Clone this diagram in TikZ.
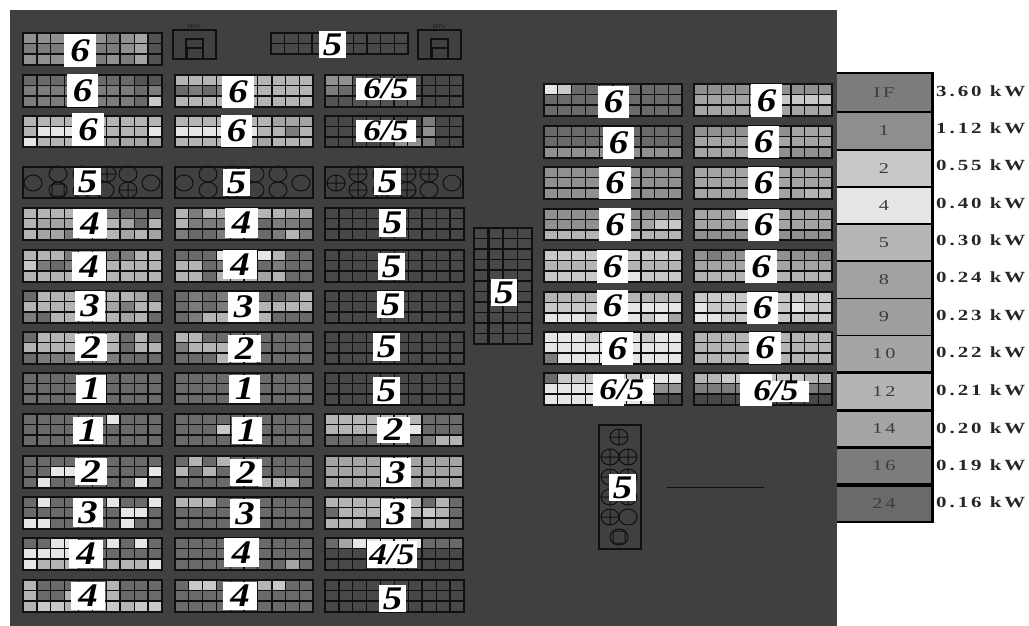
\documentclass[tikz,border=0pt]{standalone}
\usepackage{graphicx}
\usepackage{fontspec}
\setmainfont{Liberation Serif}
\newfontfamily\labbase{Liberation Serif}
\newcommand\labfont{\labbase\bfseries\itshape}
\newcommand\labtext[2]{\scalebox{1.18}[1]{\labfont\fontsize{#1}{#1}\selectfont #2}}
\newfontfamily\kwfont[LetterSpace=14]{Liberation Serif}
\newfontfamily\tinyfont{Liberation Sans}
\definecolor{cola}{HTML}{E6E6E6}
\definecolor{colb}{HTML}{C8C8C8}
\definecolor{colc}{HTML}{B4B4B4}
\definecolor{cold}{HTML}{A4A4A4}
\definecolor{cole}{HTML}{909090}
\definecolor{colf}{HTML}{7C7C7C}
\definecolor{colg}{HTML}{6A6A6A}
\definecolor{colh}{HTML}{545454}
\definecolor{coli}{HTML}{484848}
\definecolor{panel}{HTML}{404040}
\definecolor{ink}{HTML}{101010}
\definecolor{legt}{HTML}{3C3C3C}
\newcount\cellno
\newcommand\rowparse[1]{\ifx#1\relax\else
  \fill[col#1] ({\gxo+\the\cellno*\gw},\gyt) rectangle +(\gw,\gh);
  \global\advance\cellno by 1
  \expandafter\rowparse\fi}
\newcommand\rowat[3]{\global\cellno=0 \edef\gxo{#1}\edef\gyt{#2}\rowparse#3\relax}
% tgrid: x0 y0 x1 y1 and three rows of ten tones
\newcommand\tgrid[7]{%
  \pgfmathsetmacro\gw{(#3-#1)/10}\pgfmathsetmacro\gh{(#4-#2)/3}%
  \pgfmathsetmacro\yb{#2+\gh}\pgfmathsetmacro\yc{#2+2*\gh}%
  \rowat{#1}{#2}{#5}\rowat{#1}{\yb}{#6}\rowat{#1}{\yc}{#7}%
  \foreach \k in {1,...,9}{\draw[gline] ({#1+\k*\gw},#2) -- ({#1+\k*\gw},#4);}%
  \draw[gline] (#1,\yb) -- (#3,\yb);\draw[gline,line width=1.8pt] (#1,\yc) -- (#3,\yc);%
  \draw[gline,line width=2.2pt] ({#1+7*\gw},#2) -- ({#1+7*\gw},#4);%
  \draw[gline] (#1,#2) rectangle (#3,#4);%
  \draw[gline,line width=2pt] (#1,#4) -- (#3,#4);}
\newcommand\dgrid[2]{\tgrid{#1}{#2}{\the\numexpr#1+139\relax}{\the\numexpr#2+32\relax}{iiiiiiiiii}{iiiiiiiiii}{iiiiiiiiii}}
% lab: name x0 y0 x1 y1 text
\newcommand\lab[6]{\node[labbox,minimum width={(#4-#2)*1pt},minimum height={(#5-#3)*1pt}] (#1) at ({(#2+#4)/2},{(#3+#5)/2}) {\labtext{33}{#6}};}
\newcommand\labw[7]{\node[labbox,minimum width={(#4-#2)*1pt},minimum height={(#5-#3)*1pt}] (#1) at ({(#2+#4)/2},{(#3+#5)/2}) {}; \node[inner sep=0pt] (#1t) at (#6,{(#3+#5)/2}) {\labtext{30}{#7}};}
\newcommand\ring[2]{\draw[ringl] (#1,#2) ellipse (9 and 8);}
\newcommand\xring[2]{\draw[ringl] (#1,#2) ellipse (9 and 8) (#1-9,#2) -- (#1+9,#2) (#1,#2-8) -- (#1,#2+8);}
\newcommand\sring[2]{\draw[ringl] (#1,#2) ellipse (9 and 8) (#1-6,#2-6) rectangle (#1+6,#2+6);}
\newcommand\house[3]{\draw[line width=1.9pt,ink,line join=miter] (#1,#2+29) -- (#1,#2) -- (#1+43,#2) -- (#1+43,#2+29) -- (#1+30,#2+29) -- (#1+30,#2+9) -- (#1+13,#2+9) -- (#1+13,#2+29) -- cycle;
  \draw[line width=1.9pt,ink] (#1+14,#2+18) rectangle (#1+30,#2+29);
  \node[inner sep=0pt,text=ink] (#3) at (#1+21,#2-3) {\tinyfont\fontsize{5}{5}\selectfont #3};}
\newcommand\legrow[6]{\fill[#3] (837,#1) rectangle (931,#2);
  \node[text=legt,inner sep=0pt] (leg#6) at (884,{(#1+#2)/2}) {\scalebox{1.35}[1]{\kwfont\fontsize{15}{15}\selectfont #4}};
  \node[anchor=west,inner sep=0pt,text=black!85] (kw#6) at (936,#5) {\scalebox{1.35}[1]{\kwfont\bfseries\fontsize{15.5}{15.5}\selectfont #6~kW}};}
\tikzset{
  gline/.style={draw=ink,line width=1.3pt},
  ringl/.style={draw=ink,line width=1pt},
  labbox/.style={fill=white,inner sep=0pt,text=black},
}
\begin{document}
\begin{tikzpicture}[x=1pt,y=-1pt]
\useasboundingbox (0,0) rectangle (1029,626);
\fill[white] (0,0) rectangle (1029,626);
\fill[panel] (10,10) rectangle (837,626);
% column 1
\tgrid{23}{33}{162}{65}{eeeeeefedh}{fffffffedh}{eeeeefefdh}\lab{a0}{64}{34}{96}{67}{6}
\tgrid{23}{75}{162}{107}{gggggggghh}{ffffffffgf}{ffffffffgb}\lab{a1}{67}{74}{98}{107}{6}
\tgrid{23}{116}{162}{147}{cccccccccc}{caaaacccca}{acccccdddd}\lab{a2}{72}{113}{104}{146}{6}
\tgrid{23}{208}{162}{240}{ccccccfggg}{cdddcccdgc}{cddfcccdcd}\lab{a4}{73}{209}{107}{238}{4}
\tgrid{23}{250}{162}{282}{cccfccffcc}{bfgfcccccc}{cccccccccc}\lab{a5}{72}{252}{106}{281}{4}
\tgrid{23}{291}{162}{323}{gcccccccdg}{ccccccdfcc}{fgcccccdcg}\lab{a6}{75}{291}{105}{321}{3}
\tgrid{23}{332}{162}{364}{gccccccgcg}{cccccccgcc}{gffffffggg}\lab{a7}{75}{334}{107}{361}{2}
\tgrid{23}{373}{162}{404}{gggggggggg}{gggggggggg}{gggggggggg}\lab{a8}{76}{375}{106}{403}{1}
\tgrid{23}{414}{162}{446}{ggggggaggg}{gggggggggg}{gggggggggg}\lab{a9}{73}{417}{103}{444}{1}
\tgrid{23}{456}{162}{488}{gggggggggg}{ggaaggggga}{gaggggggag}\lab{a10}{75}{458}{107}{485}{2}
\tgrid{23}{497}{162}{529}{gaggggagga}{gggggggaag}{aagggggagg}\lab{a11}{73}{498}{103}{527}{3}
\tgrid{23}{538}{162}{570}{ggaaggagag}{aaaagggggg}{acccggccca}\lab{a12}{69}{540}{103}{568}{4}
\tgrid{23}{580}{162}{612}{cgggggcggg}{cggcggcggg}{cbbcccbcbb}\lab{a13}{71}{582}{105}{610}{4}
% column 2
\tgrid{175}{75}{313}{107}{cccccccccc}{gfgfcccccc}{cccccccccc}\lab{b1}{222}{76}{254}{108}{6}
\tgrid{175}{116}{313}{147}{cccccccddd}{aaaaaaccfc}{ccccccdccc}\lab{b2}{221}{115}{252}{147}{6}
\tgrid{175}{208}{313}{240}{cfccccccdd}{cfffgggffg}{fggffggfcf}\lab{b4}{225}{208}{258}{238}{4}
\tgrid{175}{250}{313}{282}{gggaaaacgg}{ccgfccgfgg}{ccgcccdcgg}\lab{b5}{223}{250}{257}{279}{4}
\tgrid{175}{291}{313}{323}{gfgfffggfc}{gfgfffcccc}{gfcccccggg}\lab{b6}{228}{292}{259}{322}{3}
\tgrid{175}{332}{313}{364}{ccgggggggg}{fcccgggggg}{gggcccgggg}\lab{b7}{228}{335}{261}{362}{2}
\tgrid{175}{373}{313}{404}{gggggggggg}{gggggggggg}{gggggggggg}\lab{b8}{229}{375}{260}{403}{1}
\tgrid{175}{414}{313}{446}{gggggggggg}{gggbgggggg}{gggggggggg}\lab{b9}{232}{417}{262}{444}{1}
\tgrid{175}{456}{313}{488}{gcgcgggggg}{cgcggggggg}{ggggggcccg}\lab{b10}{230}{459}{262}{486}{2}
\tgrid{175}{497}{313}{529}{cccggggggg}{gggggggggg}{gggggggggg}\lab{b11}{230}{499}{260}{528}{3}
\tgrid{175}{538}{313}{570}{gggggggggg}{gggggggggg}{ggggggggdg}\lab{b12}{224}{538}{259}{567}{4}
\tgrid{175}{580}{313}{612}{gbbgggcbgg}{gggggggggg}{gggggggggg}\lab{b13}{223}{582}{257}{610}{4}
% column 3
\tgrid{325}{75}{463}{107}{eehhhhhiii}{fgiiiiiiii}{hhhhhhhiii}\labw{c1}{356}{78}{416}{100}{386}{6/5}
\tgrid{325}{116}{463}{147}{iiiiiiifii}{iiiiiiieii}{iiiiieefii}\labw{c2}{356}{120}{416}{142}{386}{6/5}
\dgrid{325}{208}\lab{c4}{379}{209}{406}{237}{5}
\dgrid{325}{250}\lab{c5}{378}{253}{405}{280}{5}
\dgrid{325}{291}\lab{c6}{377}{291}{404}{318}{5}
\dgrid{325}{332}\lab{c7}{373}{333}{400}{361}{5}
\dgrid{325}{373}\lab{c8}{373}{377}{400}{404}{5}
\tgrid{325}{414}{463}{446}{cccccccggg}{ccccccaggg}{gggggggfcc}\lab{c9}{377}{417}{410}{443}{2}
\tgrid{325}{456}{463}{488}{dddddddddd}{dddddddddd}{dddddddddd}\lab{c10}{381}{458}{411}{487}{3}
\tgrid{325}{497}{463}{529}{cccccccgcg}{gccccccbcg}{cccgcggccg}\lab{c11}{381}{499}{411}{528}{3}
\tgrid{325}{538}{463}{570}{gdaaaaaggg}{iiiiiiiiii}{iiiiiiiiii}\labw{c12}{367}{541}{417}{568}{392}{4/5}
\dgrid{325}{580}\lab{c13}{379}{585}{406}{612}{5}
% top two-row grid
\fill[coli] (271,33) rectangle (408,54);
\foreach \k in {1,...,9}{\draw[gline] ({271+\k*13.7},33) -- ({271+\k*13.7},54);}
\draw[gline] (271,43.5) -- (408,43.5);
\draw[gline] (271,33) rectangle (408,54);
\lab{t5}{319}{31}{346}{58}{5}
\house{173}{30}{FFFV}
\house{418}{30}{SFFV}
% ring panels
\draw[gline] (23,167) rectangle (162,198);\draw[gline,line width=1.8pt] (23,198) -- (162,198);
\ring{33}{183}\ring{58}{174}\sring{58}{190}\ring{82}{174}\ring{82}{190}\xring{107}{174}\ring{105}{190}\ring{128}{174}\xring{128}{190}\ring{151}{183}
\lab{a3}{74}{168}{101}{195}{5}
\draw[gline] (175,167) rectangle (313,198);\draw[gline,line width=1.8pt] (175,198) -- (313,198);
\ring{184}{183}\ring{208}{174}\ring{208}{190}\ring{232}{174}\ring{232}{190}\ring{255}{174}\ring{255}{190}\ring{278}{174}\ring{278}{190}\ring{301}{183}
\lab{b3}{223}{169}{250}{196}{5}
\draw[gline] (325,167) rectangle (463,198);\draw[gline,line width=1.8pt] (325,198) -- (463,198);
\xring{336}{183}\xring{358}{174}\xring{358}{190}\xring{382}{174}\xring{382}{190}\xring{407}{174}\xring{407}{190}\xring{429}{174}\ring{429}{190}\ring{452}{183}
\lab{c3}{374}{168}{401}{195}{5}
% centre grid
\fill[coli] (474,228) rectangle (532,344);
\foreach \k in {1,...,10}{\draw[gline,line width=1.6pt] (474,{228+\k*10.55}) -- (532,{228+\k*10.55});}
\foreach \k in {1,2,3}{\draw[gline,line width=1.8pt] ({474+\k*14.5},228) -- ({474+\k*14.5},344);}
\draw[gline,line width=3pt] (488.5,228) -- (488.5,344);
\draw[gline,line width=2.2pt] (474,228) rectangle (532,344);
\lab{m5}{491}{279}{517}{306}{5}
% right block, first column
\tgrid{544}{84}{682}{116}{abgggggggg}{gggggggggg}{gggggggggg}\lab{d0}{598}{86}{629}{118}{6}
\tgrid{544}{126}{682}{158}{gggggggggg}{gggggggggg}{eeeeeeeeee}\lab{d1}{603}{127}{634}{159}{6}
\tgrid{544}{167}{682}{199}{eeeeeeeeee}{eeeeeeeeee}{eeeeeeeeee}\lab{d2}{599}{167}{631}{199}{6}
\tgrid{544}{209}{682}{240}{eeeeeeeeee}{eeeeeeedbb}{cccccccccc}\lab{d3}{599}{208}{631}{241}{6}
\tgrid{544}{250}{682}{282}{bbbbbbbbbb}{cccccccccc}{bbbbbbabbb}\lab{d4}{597}{250}{628}{283}{6}
\tgrid{544}{292}{682}{323}{cccccccccc}{bbbbbaaaaa}{aaabaaabad}\lab{d5}{597}{290}{628}{322}{6}
\tgrid{544}{332}{682}{364}{aaabaaabaa}{aaaaaaaaaa}{faaaaaaaaa}\lab{d6}{602}{332}{633}{365}{6}
\tgrid{544}{373}{682}{405}{gbbbbbbaaa}{aaaaaaaaee}{aaaaaaaaii}
\labw{d7}{593}{374}{624}{406}{623}{}\node[labbox,minimum width=30pt,minimum height=22pt] (d7b) at (638,390) {};\node[inner sep=0pt] (d7t) at (622,390) {\labtext{30}{6/5}};
% right block, second column
\tgrid{694}{84}{832}{116}{eeeeeeeeee}{ddddddbbbb}{dddddddddd}\lab{e0}{751}{84}{782}{117}{6}
\tgrid{694}{126}{832}{158}{eeeeeeeddd}{dddddddddd}{ddddddeeee}\lab{e1}{748}{126}{779}{158}{6}
\tgrid{694}{167}{832}{199}{dddddddddd}{dddddddddd}{ddddddddcc}\lab{e2}{748}{167}{779}{199}{6}
\tgrid{694}{209}{832}{240}{dddadddddd}{dddddddddd}{eeeeeeeeee}\lab{e3}{748}{209}{779}{241}{6}
\tgrid{694}{250}{832}{282}{efeeeeeeef}{dddddddddd}{cccccccccc}\lab{e4}{745}{250}{777}{283}{6}
\tgrid{694}{292}{832}{323}{bbbbbbbbbb}{abbbbbbabb}{aabbbbbbbb}\lab{e5}{747}{292}{778}{324}{6}
\tgrid{694}{332}{832}{364}{cccccccccc}{cccccccccc}{cccccccccc}\lab{e6}{749}{332}{781}{364}{6}
\tgrid{694}{373}{832}{405}{ccbbbbbbcc}{fffffffffg}{iiiiiiiiii}
\labw{e7}{740}{374}{772}{406}{771}{}\node[labbox,minimum width=37pt,minimum height=21pt] (e7b) at (790,391) {};\node[inner sep=0pt] (e7t) at (776,391) {\labtext{30}{6/5}};
% bottom ring panel
\draw[gline] (599,425) rectangle (641,549);\draw[gline,line width=1.8pt] (599,549) -- (641,549);
\xring{619}{437}\xring{610}{457}\xring{628}{457}\xring{610}{477}\xring{628}{477}\xring{610}{497}\xring{628}{497}\xring{610}{517}\ring{628}{517}\sring{619}{537}
\lab{p5}{609}{474}{636}{501}{5}
\coordinate (la) at (667,487);\coordinate (lb) at (764,487);
\draw[ink,line width=0.9pt] (la) -- (lb);
% legend
\fill[black] (837,72) rectangle (934,523);
\legrow{74}{111}{colf}{IF}{91}{3.60}
\legrow{113}{149}{cole!90!colf}{1}{128}{1.12}
\legrow{151}{186}{colb}{2}{165}{0.55}
\legrow{188}{223}{cola}{4}{203}{0.40}
\legrow{225}{260}{colc!90!colb}{5}{240}{0.30}
\legrow{262}{298}{cold!90!cole}{8}{277}{0.24}
\legrow{299}{335}{cold!70!cole}{9}{315}{0.23}
\legrow{336}{371}{cold!90!colc}{10}{352}{0.22}
\legrow{374}{409}{colc}{12}{390}{0.21}
\legrow{412}{446}{cold}{14}{428}{0.20}
\legrow{449}{483}{colf}{16}{465}{0.19}
\legrow{487}{521}{colg}{24}{502}{0.16}
\end{tikzpicture}
\end{document}
